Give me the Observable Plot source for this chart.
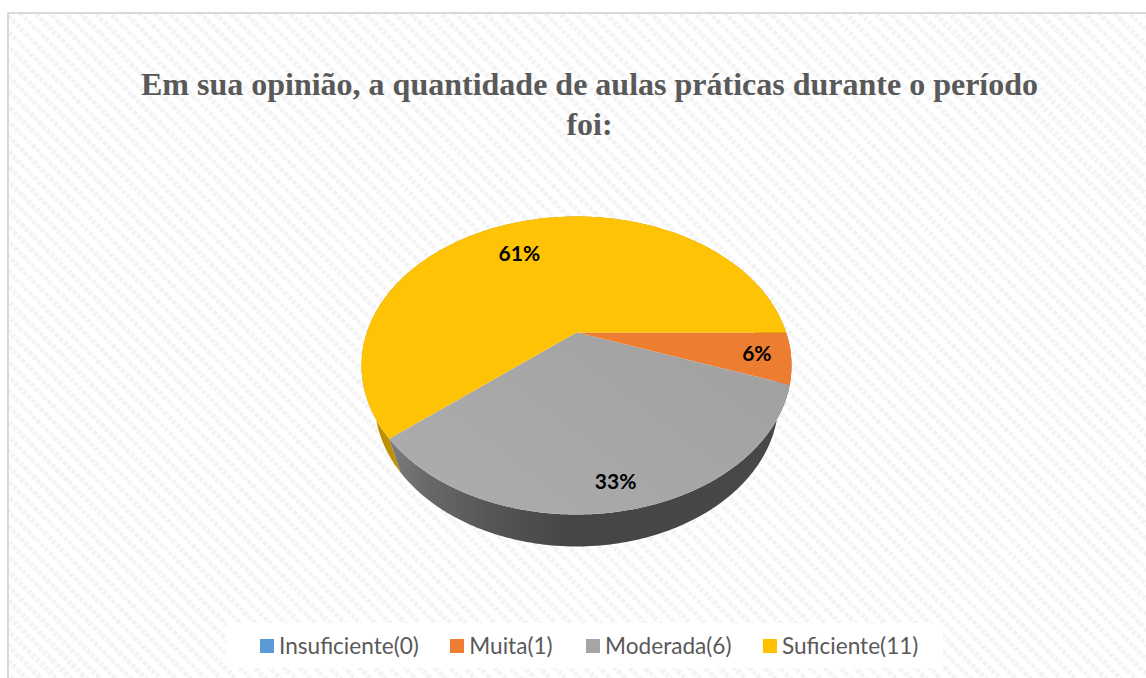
<!DOCTYPE html>
<html lang="pt">
<head>
<meta charset="utf-8">
<script src="https://cdn.jsdelivr.net/npm/d3@7"></script>
<script src="https://cdn.jsdelivr.net/npm/@observablehq/plot@0.6"></script>
<style>
html,body{margin:0;padding:0;background:#fff;overflow:hidden;width:1146px;height:678px}
#frame{position:absolute;left:7px;top:12px;width:1160px;height:700px;box-sizing:border-box;border:2px solid #d9d9d9;
 background-color:#fff;
 background-image:repeating-linear-gradient(-45deg,rgba(255,255,255,.65) 0 3px,transparent 3px 6px),
 repeating-linear-gradient(45deg,rgba(240,240,240,.8) 0 5px,transparent 5px 10.6px);}
#title{position:absolute;left:0;top:50px;width:1161px;text-align:center;font:bold 32px/40px "Liberation Serif",serif;color:#595959}
#title span{display:block}
#plot{position:absolute;left:0;top:151px}
#plot svg{display:block;background:transparent}
#legend{position:absolute;left:218px;top:609px;width:716px;height:45px;background:#fff;overflow:hidden}
#legend .lg-swatches{position:absolute;left:33px;top:0;height:45px;display:flex;align-items:center;flex-wrap:nowrap;margin:0;min-height:0;font:22.6px Lato,sans-serif;color:#595959}
#legend .lg-swatch{margin:0 31.5px 0 0 !important;display:inline-flex;align-items:center;white-space:nowrap}
#legend .lg-swatch:nth-of-type(2){margin-right:33.5px !important}
#legend .lg-swatch svg{margin-right:5px !important}
</style>
</head>
<body>
<div id="frame">
  <div id="title"><span>Em sua opinião, a quantidade de aulas práticas durante o período</span><span>foi:</span></div>
  <div id="plot"></div>
  <div id="legend"></div>
</div>
<script>
const categories = ["Insuficiente(0)", "Muita(1)", "Moderada(6)", "Suficiente(11)"];
const counts = [0, 1, 6, 11];
const percentLabels = ["", "6%", "33%", "61%"];
const colors = ["#5b9bd5", "#ed7d31", "#a5a5a5", "#ffc000"];
const sideColors = ["#4a7db0", "#b85f24", "url(#sideGray)", "#bf9000"];
const topFills = ["#5b9bd5", "#ed7d31", "url(#topGray)", "#ffc305"];

// Perspective of the tilted disc: its centre appears above the middle of the ellipse.
const tilt = 0.2215;
const project = (u, v) => {
  const w = 1 - tilt * v;
  return [u * Math.sqrt(1 - tilt * tilt) / w, (v - tilt) / w];
};
// Lower rim of the extruded disc, relative to the upper rim's ellipse.
const lower = {rx: 0.9395, ry: 0.9765, cy: 0.238};

const total = d3.sum(counts);
let running = 0;
const slices = categories.map((name, i) => {
  const start = running / total * 2 * Math.PI;
  running += counts[i];
  return {name, i, start, end: running / total * 2 * Math.PI};
}).filter(s => s.end > s.start);

const arc = s => {
  const n = Math.max(2, Math.ceil((s.end - s.start) / 0.01));
  return d3.range(n + 1).map(k => {
    const a = s.start + (s.end - s.start) * k / n;
    return project(Math.cos(a), Math.sin(a));
  });
};
const topRows = slices.flatMap(s => [project(0, 0), ...arc(s)].map(q =>
  ({name: s.name, fill: topFills[s.i], x: q[0], y: q[1]})));
const sideRows = slices.flatMap(s => {
  const a = arc(s);
  const up = a.map(p => ({x: p[0], y: p[1]}));
  const down = a.map(p => ({x: p[0] * lower.rx, y: p[1] * lower.ry + lower.cy})).reverse();
  return [...up, ...down].map(p => ({...p, name: s.name, fill: sideColors[s.i]}));
});
// Order in which a tilted disc's sides are painted: back first.
const sideOrder = [3, 1, 2];
const sortedSides = sideOrder.flatMap(i => sideRows.filter(d => d.name === categories[i]));

const labelRadius = [0, 0.845, 0.87, 0.70];
const labelTurn = [0, 0, 0, -0.11];
const labels = slices.map(s => {
  const a = (s.start + s.end) / 2 + labelTurn[s.i];
  const r = labelRadius[s.i];
  const [x, y] = project(r * Math.cos(a), r * Math.sin(a));
  return {x, y, text: percentLabels[s.i]};
});

const defs = () => {
  const svg = d3.create("svg:defs");
  const side = svg.append("linearGradient").attr("id", "sideGray").attr("x1", 0).attr("x2", 1).attr("y1", 0).attr("y2", 0);
  [[0, "#7c7c7c"], [0.1, "#686868"], [0.25, "#565656"], [0.45, "#454545"], [1, "#484848"]].forEach(([o, c]) =>
    side.append("stop").attr("offset", o).attr("stop-color", c));
  const top = svg.append("linearGradient").attr("id", "topGray").attr("x1", 0).attr("x2", 1).attr("y1", 0.8).attr("y2", 0.2);
  [[0, "#acacac"], [1, "#a1a1a1"]].forEach(([o, c]) =>
    top.append("stop").attr("offset", o).attr("stop-color", c));
  return svg.node();
};

const svgLeft = 9, svgTop = 165, svgW = 1137, svgH = 448;
const cx = 576, cy = 365, rx = 215, ry = 149;
const chart = Plot.plot({
  width: svgW, height: svgH,
  margin: 0,
  style: {background: "transparent", overflow: "visible"},
  x: {axis: null, domain: [(svgLeft - cx) / rx, (svgLeft + svgW - cx) / rx]},
  y: {axis: null, domain: [(svgTop - cy) / ry, (svgTop + svgH - cy) / ry], range: [0, svgH]},
  color: {domain: categories, range: colors},
  marks: [
    defs,
    Plot.line(sortedSides, {x: "x", y: "y", z: "name", fill: d => d.fill, stroke: null, curve: "linear"}),
    Plot.line(topRows, {x: "x", y: "y", z: "name", fill: d => d.fill, stroke: null, curve: "linear"}),
    Plot.text(labels, {x: "x", y: "y", text: "text", fontFamily: "Lato, sans-serif", fontWeight: "bold", fontSize: 21, fill: "#000"})
  ]
});
document.getElementById("plot").append(chart);
document.getElementById("legend").append(
  Plot.legend({color: {domain: categories, range: colors}, legend: "swatches", swatchSize: 14, className: "lg"})
);
</script>
</body>
</html>
